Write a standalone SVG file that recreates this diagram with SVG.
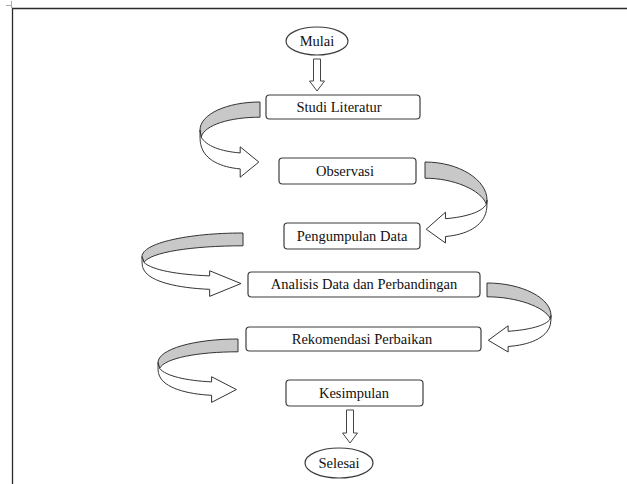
<svg xmlns="http://www.w3.org/2000/svg" xmlns:xlink="http://www.w3.org/1999/xlink" width="627" height="484" viewBox="0 0 627 484">
<style>
.frame{stroke:#2a2a2a;stroke-width:1.3;fill:none}
.crop{stroke:#aaa;stroke-width:1;fill:none}
.box{fill:#fff;stroke:#3c3c3c;stroke-width:1.2}
.t{font-family:"Liberation Serif","Times New Roman",serif;font-size:14.5px;fill:#111;text-anchor:middle}
.g{fill:#c8c8c8;stroke:#333;stroke-width:1;vector-effect:non-scaling-stroke;stroke-linejoin:miter}
.w{fill:#fff;stroke:#333;stroke-width:1;vector-effect:non-scaling-stroke;stroke-linejoin:miter}
.da{fill:#fff;stroke:#444;stroke-width:1}
</style>
<defs>
<g id="curveL">
<path class="g" d="M100,0 C45,0 0,16 0,37 L2,46 C8,30 50,20 100,20 Z"/>
<path class="w" d="M0,37 C0,48 0,53 2,58 C8,76 35,86 67,88 L67,99 L98,79 L67,59 L67,67 C35,65 10,58 2,46 Z"/>
</g>
<g id="curveR">
<path class="g" d="M100,0 C45,0 0,22 0,47 L1,52 C10,34 55,20 100,20 Z"/>
<path class="w" d="M0,47 C0,52 0,56 1,60 C6,80 35,90 67,92 L67,100 L98,83 L67,62 L67,70 C35,68 8,62 1,52 Z"/>
</g>
</defs>
<rect width="627" height="484" fill="#fff"/>
<g id="page">
<path class="crop" d="M6,5.5 H12 M11.5,1 V8"/>
<path class="frame" d="M12.5,484 V8.5 H627"/>
</g>
<g id="connectors">
<path class="da" d="M313.5,59 h7 v22 h4 L317,91 L309.5,81 h4 Z"/>
<use xlink:href="#curveL" transform="translate(200,102) scale(0.60,0.76)"/>
<use xlink:href="#curveR" transform="translate(487,162) scale(-0.62,0.81)"/>
<use xlink:href="#curveL" transform="translate(142,233) scale(1.01,0.64)"/>
<use xlink:href="#curveR" transform="translate(551,283) scale(-0.64,0.69)"/>
<use xlink:href="#curveL" transform="translate(158,339) scale(0.80,0.64)"/>
<path class="da" d="M346.5,410 h7 v23 h4 L350,443 L342.5,433 h4 Z"/>
</g>
<g id="mulai">
<ellipse class="box" cx="317" cy="41" rx="31" ry="14"/>
<text class="t" x="317" y="46">Mulai</text>
</g>
<g id="studi">
<rect class="box" x="266" y="95" width="154" height="24" rx="3.5"/>
<text class="t" x="339" y="112">Studi Literatur</text>
</g>
<g id="observasi">
<rect class="box" x="279" y="158" width="137" height="26" rx="3.5"/>
<text class="t" x="345" y="176">Observasi</text>
</g>
<g id="pengumpulan">
<rect class="box" x="284" y="223" width="136" height="26" rx="3.5"/>
<text class="t" x="352" y="241">Pengumpulan Data</text>
</g>
<g id="analisis">
<rect class="box" x="248" y="272" width="232" height="25" rx="3.5"/>
<text class="t" x="364" y="289">Analisis Data dan Perbandingan</text>
</g>
<g id="rekomendasi">
<rect class="box" x="246" y="327" width="235" height="24" rx="3.5"/>
<text class="t" x="362" y="344">Rekomendasi Perbaikan</text>
</g>
<g id="kesimpulan">
<rect class="box" x="286" y="380" width="137" height="26" rx="3.5"/>
<text class="t" x="354" y="398">Kesimpulan</text>
</g>
<g id="selesai">
<ellipse class="box" cx="339" cy="463" rx="34" ry="15"/>
<text class="t" x="339" y="468">Selesai</text>
</g>
</svg>
